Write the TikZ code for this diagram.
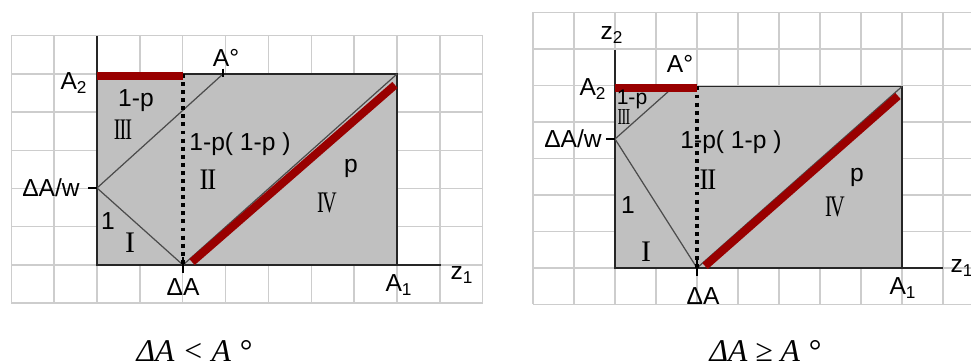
\documentclass[tikz,border=0pt]{standalone}
\usepackage{fontspec}
\setmainfont{Liberation Serif}
\newfontfamily\labfont{Liberation Sans}
\usepackage{graphicx}
\usepackage{xcolor}
\usepackage{tikz}
\usetikzlibrary{positioning,calc}
\definecolor{Grid}{HTML}{CDCDCD}
\definecolor{Field}{HTML}{C0C0C0}
\definecolor{Bar}{HTML}{990000}
\newcommand{\rnum}[2]{\scalebox{#1}[1]{#2}}
\newcommand{\II}{I\kern-0.05em I}

\begin{document}
\begin{tikzpicture}[x=0.02cm,y=-0.02cm,
  gridline/.style={draw=Grid,line width=0.8pt},
  field/.style={fill=Field,draw=black!85,line width=0.9pt},
  axis/.style={draw=black!85,line width=0.9pt},
  thin/.style={draw=black!70,line width=0.7pt},
  dotline/.style={draw=black,line width=2.2pt,dash pattern=on 2.2pt off 2.4pt},
  bar/.style={draw=Bar,line width=4.6pt},
  tickmark/.style={draw=black,line width=1.7pt},
  lab/.style={font=\fontsize{14}{16}\selectfont\labfont,inner sep=0pt},
  rom/.style={font=\fontsize{17}{19}\selectfont,inner sep=0pt},
  capt/.style={font=\fontsize{18}{20}\selectfont\itshape,anchor=base,inner sep=0pt}]
\useasboundingbox (0,0) rectangle (971,364);
% grids
\foreach \k in {0,...,11} \draw[gridline] ({11.3+42.86*\k},35.8) -- ({11.3+42.86*\k},303.2);
\foreach \k in {0,...,7} \draw[gridline] (11.3,{35.8+38.2*\k}) -- (482.8,{35.8+38.2*\k});
\foreach \k in {0,...,11} \draw[gridline] ({533+41*\k},12.5) -- ({533+41*\k},304.3);
\foreach \k in {0,...,8} \draw[gridline] (533,{12.5+36.5*\k}) -- (990,{12.5+36.5*\k});

% left: dA < A0
\coordinate (LO) at (97,265);
\coordinate (LC) at (397,74);
\coordinate (LA2) at (97,74);
\coordinate (LdA) at (183,265);
\coordinate (LdAt) at (183,74);
\coordinate (LAo) at (223,74);
\coordinate (Lw) at (97,188);
\coordinate (Lax) at (97,35.8);
\coordinate (Lz) at (441,265);
\coordinate (LpS) at (192,262);
\coordinate (LpE) at (395,85);
\draw[field] (LO) rectangle (LC);
\draw[axis] (Lax) -- (LO) -- (Lz);
\foreach \a/\b in {Lw/LdA,Lw/LAo,LdA/LC}\draw[thin] (\a) -- (\b);
\draw[dotline] (LdAt) -- (LdA);
\draw[bar] ([yshift=-1.2pt]LA2) -- ([yshift=-1.2pt]LdAt);
\draw[bar] (LpS) -- (LpE);
\draw[tickmark] ([yshift=3pt]LAo) -- ([yshift=-1.5pt]LAo);
\draw[tickmark] ([xshift=-5pt]Lw) -- (Lw);
\draw[tickmark] ([yshift=4.5pt]LdA) -- ([yshift=-4.5pt]LdA);
\node[lab] (lA2) at (74,83) {A\textsubscript{2}};
\node[lab] (lAo) at (226,58) {A°};
\node[lab] (lq3) at (136,101) {1-p};
\node[rom] (lr3) at (123,130) {\rnum{0.68}{I\kern-0.05em I\kern-0.05em I}};
\node[lab] (lq2) at (240,144) {1-p( 1-p )};
\node[rom] (lr2) at (208,180) {\rnum{0.9}{\II}};
\node[lab] (lq4) at (351,168) {p};
\node[rom] (lr4) at (327,203) {\rnum{0.68}{I\kern-0.08em V}};
\node[lab] (lw) at (51,188) {ΔA/w};
\node[lab] (lq1) at (108,221) {1};
\node[rom] (lr1) at (130,243) {I};
\node[lab] (ldA) at (183,287) {ΔA};
\node[lab] (lA1) at (399,285) {A\textsubscript{1}};
\node[lab] (lz1) at (462,275) {z\textsubscript{1}};
\node[capt] (lcap) at (194,362) {ΔA < A °};

% right: dA >= A0
\coordinate (RO) at (615,268);
\coordinate (RC) at (902,86.5);
\coordinate (RA2) at (615,86.5);
\coordinate (RdA) at (697,268);
\coordinate (RdAt) at (697,86.5);
\coordinate (RAo) at (674,86.5);
\coordinate (Rw) at (615,139);
\coordinate (Rax) at (615,50);
\coordinate (Rz) at (943,268);
\coordinate (RpS) at (705,266);
\coordinate (RpE) at (898,96);
\draw[field] (RO) rectangle (RC);
\draw[axis] (Rax) -- (RO) -- (Rz);
\foreach \a/\b in {Rw/RdA,Rw/RAo,RdA/RC}\draw[thin] (\a) -- (\b);
\draw[dotline] (RdAt) -- (RdA);
\draw[bar] ([yshift=-0.6pt]RA2) -- ([yshift=-0.6pt]RdAt);
\draw[bar] (RpS) -- (RpE);
\draw[tickmark] ([xshift=-5pt]Rw) -- (Rw);
\draw[tickmark] ([yshift=4.5pt]RdA) -- ([yshift=-4.5pt]RdA);
\node[lab] (rz2) at (612,35) {z\textsubscript{2}};
\node[lab] (rAo) at (680,64) {A°};
\node[lab] (rA2) at (593,89) {A\textsubscript{2}};
\node[lab,font=\fontsize{12}{14}\selectfont\labfont] (rq3) at (632,99) {1-p};
\node[rom,font=\fontsize{13}{15}\selectfont] (rr3) at (624,117) {\rnum{0.62}{I\kern-0.05em I\kern-0.05em I}};
\node[lab] (rw) at (573,139) {ΔA/w};
\node[lab] (rq2) at (731,142) {1-p( 1-p )};
\node[rom] (rr2) at (708,180) {\rnum{0.9}{\II}};
\node[lab] (rq4) at (857,177) {p};
\node[rom] (rr4) at (835,207) {\rnum{0.68}{I\kern-0.08em V}};
\node[lab] (rq1) at (628,205) {1};
\node[rom] (rr1) at (646,252) {I};
\node[lab] (rdA) at (703,296) {ΔA};
\node[lab] (rA1) at (903,288) {A\textsubscript{1}};
\node[lab] (rz1) at (962,268) {z\textsubscript{1}};
\node[capt] (rcap) at (765,362) {ΔA ≥ A °};
\end{tikzpicture}
\end{document}
